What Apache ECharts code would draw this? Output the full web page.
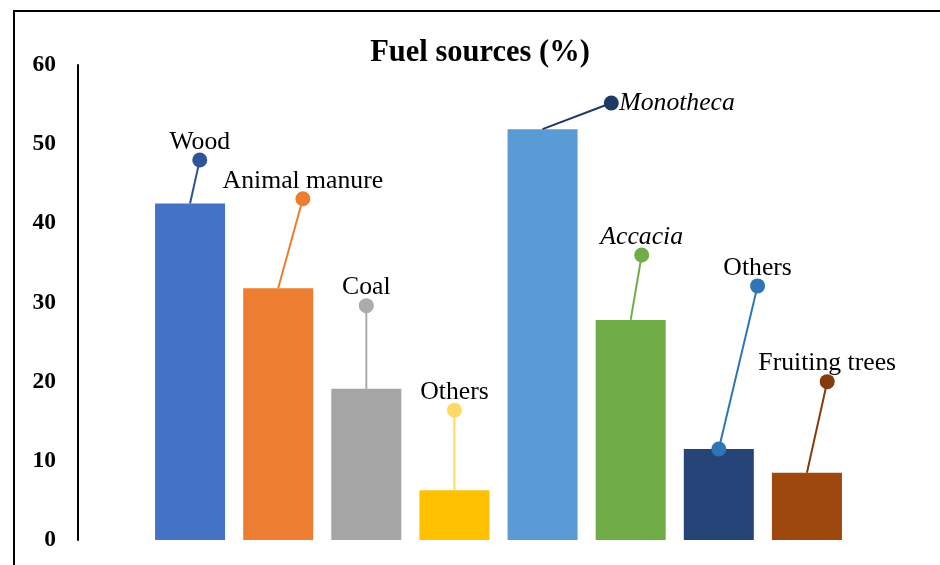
<!DOCTYPE html>
<html>
<head>
<meta charset="utf-8">
<script src="https://cdn.jsdelivr.net/npm/echarts@6/dist/echarts.min.js"></script>
<style>html,body{margin:0;padding:0;background:#fff}#c{width:940px;height:565px}</style>
</head>
<body>
<div id="c"></div>
<script>
// ---- data ----
const categories = ['Wood', 'Animal manure', 'Coal', 'Others', 'Monotheca', 'Accacia', 'Others', 'Fruiting trees'];
const values = [42.5, 31.8, 19.1, 6.3, 51.9, 27.8, 11.5, 8.5];
const calloutValues = [48.0, 43.1, 29.6, 16.4, 55.2, 36.0, 32.1, 20.0];
const calloutShift = [0.11, 0.28, 0, 0, 0.78, 0.125, 0.44, 0.23];
const yTickLabels = ['0', '10', '20', '30', '40', '50', '60'];

// ---- styles ----
const barColors = ['#4472C4', '#ED7D31', '#A5A5A5', '#FFC000', '#5B9BD5', '#70AD47', '#264478', '#9E480E'];
const calloutColors = ['#2F5597', '#ED7D31', '#AFABAB', '#FFD966', '#203864', '#70AD47', '#2E75B6', '#843C0C'];
const italicIdx = [4, 5];
const rightLabelIdx = [4];
const startDotIdx = [6];

const yMin = Number(yTickLabels[0]);
const yMax = Number(yTickLabels[yTickLabels.length - 1]);
const yInterval = Number(yTickLabels[1]) - Number(yTickLabels[0]);
const serif = '"Liberation Serif", "Times New Roman", serif';

const chart = echarts.init(document.getElementById('c'), null, {renderer: 'canvas'});

const calloutData = categories.map((c, i) => [i, values[i], calloutValues[i], calloutShift[i]]);

chart.setOption({
  animation: false,
  backgroundColor: '#fff',
  title: {
    text: 'Fuel sources (%)',
    left: 475, top: 33, textAlign: 'center',
    textStyle: {fontFamily: serif, fontWeight: 'bold', fontSize: 30.5, color: '#000'}
  },
  graphic: [{
    type: 'rect', z: -10, silent: true,
    shape: {x: 14, y: 11, width: 1000, height: 700},
    style: {fill: 'none', stroke: '#000', lineWidth: 2}
  }],
  grid: {left: 146, right: 89, top: 65, bottom: 25, containLabel: false},
  xAxis: [
    {type: 'category', data: categories, show: false, boundaryGap: true},
    {type: 'value', min: -0.5, max: categories.length - 0.5, show: false}
  ],
  yAxis: {
    type: 'value', min: yMin, max: yMax, interval: yInterval, offset: 68,
    axisLine: {show: true, onZero: false, lineStyle: {color: '#000', width: 2}},
    axisTick: {show: false},
    splitLine: {show: false},
    axisLabel: {
      margin: 22, color: '#000', fontFamily: serif, fontWeight: 'bold', fontSize: 23.5,
      formatter: v => yTickLabels[Math.round((v - yMin) / yInterval)]
    }
  },
  series: [
    {
      type: 'bar', xAxisIndex: 0, barWidth: 70,
      data: values.map((v, i) => ({value: v, itemStyle: {color: barColors[i]}}))
    },
    {
      type: 'custom', xAxisIndex: 1, z: 5,
      data: calloutData,
      renderItem: function (params, api) {
        const i = params.dataIndex;
        const start = api.coord([api.value(0), api.value(1)]);
        const end = api.coord([api.value(0) + api.value(3), api.value(2)]);
        const col = calloutColors[i];
        const children = [
          {type: 'line', shape: {x1: start[0], y1: start[1], x2: end[0], y2: end[1]}, style: {stroke: col, lineWidth: 2}},
          {type: 'circle', shape: {cx: end[0], cy: end[1], r: 7.5}, style: {fill: col}}
        ];
        if (startDotIdx.indexOf(i) >= 0) {
          children.push({type: 'circle', shape: {cx: start[0], cy: start[1], r: 7.5}, style: {fill: col}});
        }
        const right = rightLabelIdx.indexOf(i) >= 0;
        const italic = italicIdx.indexOf(i) >= 0;
        children.push({
          type: 'text',
          style: {
            text: categories[i],
            x: right ? end[0] + 8 : end[0],
            y: right ? end[1] : end[1] - 5,
            font: (italic ? 'italic ' : '') + '25.7px ' + serif,
            fill: '#000',
            align: right ? 'left' : 'center',
            textAlign: right ? 'left' : 'center',
            verticalAlign: right ? 'middle' : 'bottom',
            textVerticalAlign: right ? 'middle' : 'bottom'
          }
        });
        return {type: 'group', children: children};
      }
    }
  ]
});
</script>
</body>
</html>
